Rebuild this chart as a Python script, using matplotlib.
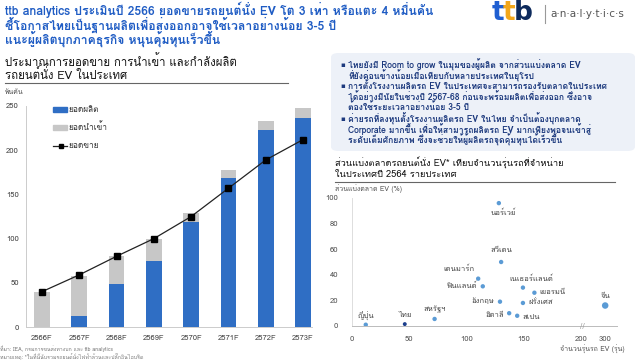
import matplotlib
matplotlib.use("Agg")
import matplotlib.pyplot as plt
from matplotlib import font_manager
from matplotlib.ft2font import FT2Font
from matplotlib.patches import FancyBboxPatch
from matplotlib.lines import Line2D
import numpy as np

# ---- find a font that covers Thai ----
thai_fonts = []
for f in font_manager.fontManager.ttflist:
    try:
        cm = FT2Font(f.fname).get_charmap()
    except Exception:
        continue
    if 0x0E01 in cm and f.name not in thai_fonts:
        thai_fonts.append(f.name)
FAM = thai_fonts + ["DejaVu Sans"]
plt.rcParams["font.family"] = FAM

# ---- data ----
years = ["2566F", "2567F", "2568F", "2569F", "2570F", "2571F", "2572F", "2573F"]
production = [0, 13, 49, 75, 119, 168, 223, 236]
imports = [40, 45, 31, 25, 10, 10, 10, 12]
sales = [40, 59, 80, 100, 125, 157, 189, 212]
bar_yticks = [0, 50, 100, 150, 200, 250]

countries = ["นอร์เวย์", "สวีเดน", "เดนมาร์ก", "ฟินแลนด์", "อังกฤษ", "อิตาลี", "สเปน",
             "ฝรั่งเศส", "เนเธอร์แลนด์", "เยอรมนี", "สหรัฐฯ", "ไทย", "ญี่ปุ่น", "จีน"]
models = [128, 130, 110, 114, 129, 137, 144, 149, 149, 159, 72, 46, 12, 300]
ev_share = [96, 50, 37, 31, 19, 10, 8, 18, 30, 26, 5.5, 1.5, 1, 16]
sc_xticks = [0, 50, 100, 150, 200, 300]

W, H = 640, 364
fig = plt.figure(figsize=(W / 100, H / 100), dpi=100)
fig.patch.set_facecolor("white")


def T(x, y, s, **kw):
    return fig.text(x / W, 1 - y / H, s, **kw)


def ax_px(l, t, r, b):
    return fig.add_axes([l / W, 1 - b / H, (r - l) / W, (b - t) / H])


BLUE_T = "#1f5cc4"
# ---- title ----
title = ["ttb analytics ประเมินปี 2566 ยอดขายรถยนต์นั่ง EV โต 3 เท่า หรือแตะ 4 หมื่นคัน",
         "ชี้โอกาสไทยเป็นฐานผลิตเพื่อส่งออกอาจใช้เวลาอย่างน้อย 3-5 ปี",
         "แนะผู้ผลิตบุกภาคธุรกิจ หนุนคุ้มทุนเร็วขึ้น"]
for i, s in enumerate(title):
    T(5, 10 + i * 14.5, s, color=BLUE_T, fontsize=8.8, fontweight="bold", va="center", ha="left")

# ---- logo ----
LOGO = ["DejaVu Sans"]
T(492, 13, "t", color="#1f5fd1", fontsize=19, fontweight="bold", va="center", family=LOGO)
T(503, 13, "t", color="#f2a71b", fontsize=19, fontweight="bold", va="center", family=LOGO)
T(514, 13, "b", color="#0d2a5c", fontsize=19, fontweight="bold", va="center", family=LOGO)
fig.add_artist(Line2D([545 / W, 545 / W], [1 - 5 / H, 1 - 23 / H], color="#999999", lw=0.8))
T(550, 14, "a·n·a·l·y·t·i·c·s", color="#555555", fontsize=7.5, va="center", family=LOGO)

# ---- left chart heading ----
T(5, 61, "ประมาณการยอดขาย การนำเข้า และกำลังผลิต", color="#111111", fontsize=8.2, va="center")
T(5, 74, "รถยนต์นั่ง EV ในประเทศ", color="#111111", fontsize=8.2, va="center")
fig.add_artist(Line2D([5 / W, 288 / W], [1 - 83 / H, 1 - 83 / H], color="#666666", lw=0.8))
T(5, 92, "พันคัน", color="#555555", fontsize=5, va="center")

ax = ax_px(26, 106, 312, 327)
x = np.arange(len(years))
BAR_BLUE = "#2f6ec4"
BAR_GRAY = "#c7c7c7"
ax.bar(x, production, width=0.42, color=BAR_BLUE, zorder=2)
ax.bar(x, imports, width=0.42, bottom=production, color=BAR_GRAY, zorder=2)
ax.plot(x, sales, color="#222222", lw=0.9, marker="s", ms=4, mfc="black", mec="black", zorder=3)
ax.set_xlim(-0.43, 7.24)
ax.set_ylim(0, 250)
ax.set_yticks(bar_yticks)
ax.set_xticks(x)
ax.set_xticklabels(years)
ax.tick_params(axis="both", length=0, labelsize=5.5, colors="#444444")
ax.tick_params(axis="y", pad=5)
ax.tick_params(axis="x", pad=6)
for sp in ["top", "right"]:
    ax.spines[sp].set_visible(False)
ax.spines["left"].set_color("#cccccc")
ax.spines["bottom"].set_color("#cccccc")
ax.spines["left"].set_linewidth(0.7)
ax.spines["bottom"].set_linewidth(0.7)
ax.patch.set_alpha(0)

# legend
fig.patches.append(plt.Rectangle((53 / W, 1 - 112 / H), 14 / W, 5 / H, color=BAR_BLUE, transform=fig.transFigure))
fig.patches.append(plt.Rectangle((53 / W, 1 - 130 / H), 14 / W, 5 / H, color=BAR_GRAY, transform=fig.transFigure))
fig.add_artist(Line2D([53 / W, 67 / W], [1 - 146 / H, 1 - 146 / H], color="#222222", lw=0.9))
fig.add_artist(Line2D([61 / W], [1 - 146 / H], marker="s", ms=3.5, color="black", lw=0))
T(68, 109, "ยอดผลิต", fontsize=6, color="#333333", va="center")
T(68, 127, "ยอดนำเข้า", fontsize=6, color="#333333", va="center")
T(68, 146, "ยอดขาย", fontsize=6, color="#333333", va="center")

# footnotes
T(0, 349, "ที่มา: IEA, กรมการขนส่งทางบก และ ttb analytics", fontsize=3.8, color="#777777", va="center")
T(0, 357, "หมายเหตุ: *ในที่นี้นับรวมรถยนต์นั่งไฟฟ้าล้วนและปลั๊กอินไฮบริด", fontsize=3.8, color="#777777", va="center")

# ---- right info box ----
box = FancyBboxPatch((331 / W, 1 - 151 / H), 304 / W, 98 / H,
                     boxstyle="round,pad=0,rounding_size=0.012",
                     transform=fig.transFigure, facecolor="#edf1f8", edgecolor="none")
fig.patches.append(box)
NAVY = "#1d3a7e"
box_lines = [
    (True, "ไทยยังมี Room to grow ในมุมของผู้ผลิต จากส่วนแบ่งตลาด EV"),
    (False, "ที่ยังค่อนข้างน้อยเมื่อเทียบกับหลายประเทศในยุโรป"),
    (True, "การตั้งโรงงานผลิตรถ EV ในประเทศจะสามารถรองรับตลาดในประเทศ"),
    (False, "ได้อย่างมีนัยในช่วงปี 2567-68 ก่อนจะพร้อมผลิตเพื่อส่งออก ซึ่งอาจ"),
    (False, "ต้องใช้ระยะเวลาอย่างน้อย 3-5 ปี"),
    (True, "ค่ายรถที่ลงทุนตั้งโรงงานผลิตรถ EV ในไทย จำเป็นต้องบุกตลาด"),
    (False, "Corporate มากขึ้น เพื่อให้สามารถผลิตรถ EV มากเพียงพอจนเข้าสู่"),
    (False, "ระดับเต็มศักยภาพ ซึ่งจะช่วยให้ผู้ผลิตรถจุดคุ้มทุนได้เร็วขึ้น"),
]
ys = [65, 75.5, 86.5, 97, 107.5, 119, 129.5, 140]
for (bul, s), yy in zip(box_lines, ys):
    if bul:
        T(340, yy, "▪", color=NAVY, fontsize=5, va="center", family=["DejaVu Sans"])
    T(348, yy, s, color=NAVY, fontsize=6.2, fontweight="bold", va="center")

# ---- scatter heading ----
T(335, 163, "ส่วนแบ่งตลาดรถยนต์นั่ง EV* เทียบจำนวนรุ่นรถที่จำหน่าย", color="#111111", fontsize=6.7, va="center")
T(335, 174, "ในประเทศปี 2564 รายประเทศ", color="#111111", fontsize=6.7, va="center")
fig.add_artist(Line2D([335 / W, 615 / W], [1 - 182 / H, 1 - 182 / H], color="#666666", lw=0.8))
T(335, 189, "ส่วนแบ่งตลาด EV (%)", fontsize=5, color="#555555", va="center")


def xmap(v):
    v = np.asarray(v, dtype=float)
    return np.where(v > 200, 200 + (v - 200) * 0.207, v)


sax = ax_px(352, 198, 617, 326)
sx = xmap(models)
cols = ["#5b9bd5"] * len(countries)
sizes = [10] * len(countries)
cols[countries.index("ไทย")] = "#1c3f8c"
sizes[countries.index("ไทย")] = 8
sizes[countries.index("จีน")] = 22
sax.scatter(sx, ev_share, s=sizes, c=cols, zorder=3, linewidths=0)
sax.set_xlim(0, 231)
sax.set_ylim(0, 100)
sax.set_yticks([0, 20, 40, 60, 80, 100])
sax.set_xticks(xmap(sc_xticks))
sax.set_xticklabels([str(v) for v in sc_xticks])
sax.tick_params(axis="both", length=0, labelsize=5.5, colors="#555555")
sax.tick_params(axis="y", pad=10)
sax.tick_params(axis="x", pad=7)
for sp in ["top", "right"]:
    sax.spines[sp].set_visible(False)
sax.spines["left"].set_color("#dddddd")
sax.spines["bottom"].set_color("#bbbbbb")
sax.spines["left"].set_linewidth(0.7)
sax.spines["bottom"].set_linewidth(0.7)
sax.patch.set_alpha(0)
sax.text(201, 0, "//", fontsize=5, color="#999999", ha="center", va="center", family=["DejaVu Sans"])

# labels: (dx px, dy px, ha)
offs = {
    "นอร์เวย์": (4, -10, "center"),
    "สวีเดน": (0, 11, "center"),
    "เดนมาร์ก": (-4, 9, "right"),
    "ฟินแลนด์": (-6, 0, "right"),
    "อังกฤษ": (-6, 0, "right"),
    "อิตาลี": (-5, -2, "right"),
    "สเปน": (5, -2, "left"),
    "ฝรั่งเศส": (5, 0, "left"),
    "เนเธอร์แลนด์": (8, 8, "center"),
    "เยอรมนี": (5, 0, "left"),
    "สหรัฐฯ": (0, 9, "center"),
    "ไทย": (0, 9, "center"),
    "ญี่ปุ่น": (0, 9, "center"),
    "จีน": (0, 9, "center"),
}
for name, xv, yv in zip(countries, sx, ev_share):
    dx, dy, ha = offs[name]
    sax.annotate(name, (xv, yv), xytext=(dx * 0.72, dy * 0.72), textcoords="offset points",
                 ha=ha, va="center", fontsize=5.5, color="#444444")

T(625, 349, "จำนวนรุ่นรถ EV (รุ่น)", fontsize=5, color="#555555", va="center", ha="right")

fig.savefig("out.png", dpi=100, facecolor="white")
